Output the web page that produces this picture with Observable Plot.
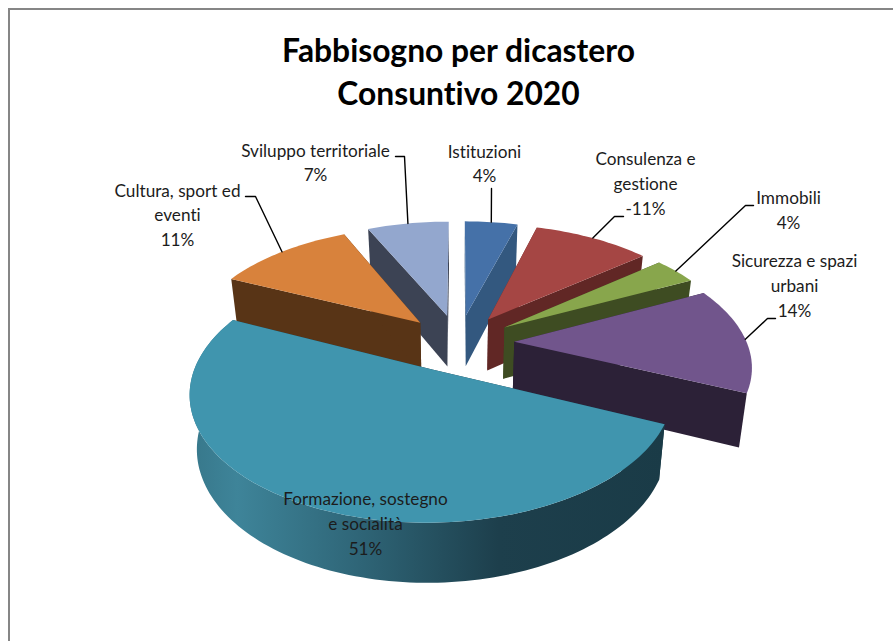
<!DOCTYPE html>
<html lang="it">
<head>
<meta charset="utf-8">
<script src="https://cdn.jsdelivr.net/npm/d3@7"></script>
<script src="https://cdn.jsdelivr.net/npm/@observablehq/plot@0.6"></script>
<style>
html,body{margin:0;padding:0;background:#fff;overflow:hidden;width:893px;height:641px}
#frame{position:absolute;left:8px;top:8px;width:1000px;height:800px;border-left:2px solid #868686;border-top:2px solid #868686}
#chart{position:absolute;left:0;top:0}
svg{font-family:Lato,"Open Sans",sans-serif;font-variant-ligatures:none}
</style>
</head>
<body>
<div id="frame"></div>
<div id="chart"></div>
<script>
// ---- Data ----
const dicasteri = ["Istituzioni","Consulenza e\ngestione","Immobili","Sicurezza e spazi\nurbani","Formazione, sostegno\ne socialità","Cultura, sport ed\neventi","Sviluppo territoriale"];
const percentuali = [4,-11,4,14,51,11,7];
// share of the circle each slice actually covers in the drawing
const ampiezze = [4.4,9.7,3.6,13.9,50.3,11.3,6.8];

// ---- Styles ----
const coloriTop = ["#4571a8","#a54644","#88a64c","#71558c","#4095ae","#d8823c","#93a7ce"];
const coloriLato = ["#33587f","#612725","#3e4c22","#2c2137","#1a3b47","#583416","#3c4354"];
const latoFronte = "url(#latoFrontale)";

// ---- 3D pie geometry (unit disc, perspective) ----
const esplosione = 0.24, prospettiva = 0.172;
const scalaBaseX = 0.973, scalaBaseY = 1.045, spessore = 0.438;
const raggioFronte = 0.985, scartoFronte = -0.01; // the front slice is drawn a little tighter
function proietta(u, v, base) {
  const w = 1 + prospettiva * v;
  return base
    ? {x: scalaBaseX * u / w, y: scalaBaseY * v / w - spessore}
    : {x: u / w, y: v / w};
}
const totale = d3.sum(ampiezze);
let cum = 0;
const fette = ampiezze.map((a, i) => {
  const t0 = cum / totale * 2 * Math.PI; cum += a;
  const t1 = cum / totale * 2 * Math.PI;
  const tm = (t0 + t1) / 2;
  const fronte = t0 < Math.PI && t1 > Math.PI;
  const r = fronte ? raggioFronte : 1;
  const ax = esplosione * Math.sin(tm) + (fronte ? scartoFronte : 0), ay = esplosione * Math.cos(tm);
  const punto = (t, base) => proietta(ax + r * Math.sin(t), ay + r * Math.cos(t), base);
  const n = Math.max(4, Math.ceil((t1 - t0) * 40));
  const arco = base => d3.range(n + 1).map(k => punto(t0 + (t1 - t0) * k / n, base));
  const centro = base => proietta(ax, ay, base);
  return {i, t0, t1, tm, ay, fronte, punto, arco, centro};
});
const poligoni = [...fette].sort((a, b) => b.ay - a.ay).flatMap(f => {
  const facce = [
    {fill: coloriLato[f.i], pts: [f.centro(false), f.punto(f.t0,false), f.punto(f.t0,true), f.centro(true)]},
    {fill: coloriLato[f.i], pts: [f.centro(false), f.punto(f.t1,false), f.punto(f.t1,true), f.centro(true)]}
  ];
  // only the slice whose rim faces the viewer shows its curved wall
  if (f.fronte) facce.push({fill: latoFronte, pts: [...f.arco(false), ...f.arco(true).reverse()]});
  facce.push({fill: coloriTop[f.i], pts: [f.centro(false), ...f.arco(false)]});
  return facce;
});

// ---- Layout (pixels of the page) ----
const cx = 458, cy = 342, rx = 232.5, ry = 118.7;
const nx = px => (px - cx) / rx, ny = py => (cy - py) / ry;
const titolo = "Fabbisogno per dicastero\nConsuntivo 2020";
const posEtichette = [[484,161.5],[645,181.5],[788,208],[794,283.5],[365,521.5],[177,213],[315,160.5]];
const gomiti = [[[491,188]],[[614,216],[623,216]],[[745,205],[753,205]],[[767,318],[775,318]],[],[[255,196],[245,196]],[[404,156],[395,156]]];
const leader = fette.filter(f => gomiti[f.i].length).map(f => [
  f.punto(f.tm, false),
  ...gomiti[f.i].map(([x, y]) => ({x: nx(x), y: ny(y)}))
]);
const etichette = dicasteri.map((d, i) => ({
  testo: `${d}\n${percentuali[i]}%`, x: nx(posEtichette[i][0]), y: ny(posEtichette[i][1])
}));

const gradiente = () => {
  const defs = d3.create("svg:defs");
  const g = defs.append("linearGradient").attr("id", "latoFrontale");
  [[0,"#37778a"],[0.1,"#3e8499"],[0.35,"#2f6678"],[0.65,"#1d3f4c"],[1,"#1a3b47"]]
    .forEach(([o,c]) => g.append("stop").attr("offset", o).attr("stop-color", c));
  return defs.node();
};

const chart = Plot.plot({
  width: 893, height: 641,
  margin: 0,
  x: {domain: [-1, 1], range: [cx - rx, cx + rx], axis: null},
  y: {domain: [-1, 1], range: [cy + ry, cy - ry], axis: null},
  style: {background: "transparent", overflow: "visible"},
  marks: [
    gradiente,
    ...poligoni.map(p => Plot.line(p.pts, {x: "x", y: "y", fill: p.fill, stroke: "none"})),
    ...leader.map(l => Plot.line(l, {x: "x", y: "y", stroke: "#000", strokeWidth: 1.4})),
    Plot.text(etichette, {x: "x", y: "y", text: "testo", fill: "#1c1c1c", fontSize: 17.2, lineHeight: 1.45, textAnchor: "middle"}),
    Plot.text([titolo], {x: () => 0, y: () => ny(69), text: d => d, fill: "#000", fontSize: 31.8, fontWeight: 700, lineHeight: 1.352, textAnchor: "middle"})
  ]
});
document.getElementById("chart").append(chart);
</script>
</body>
</html>
